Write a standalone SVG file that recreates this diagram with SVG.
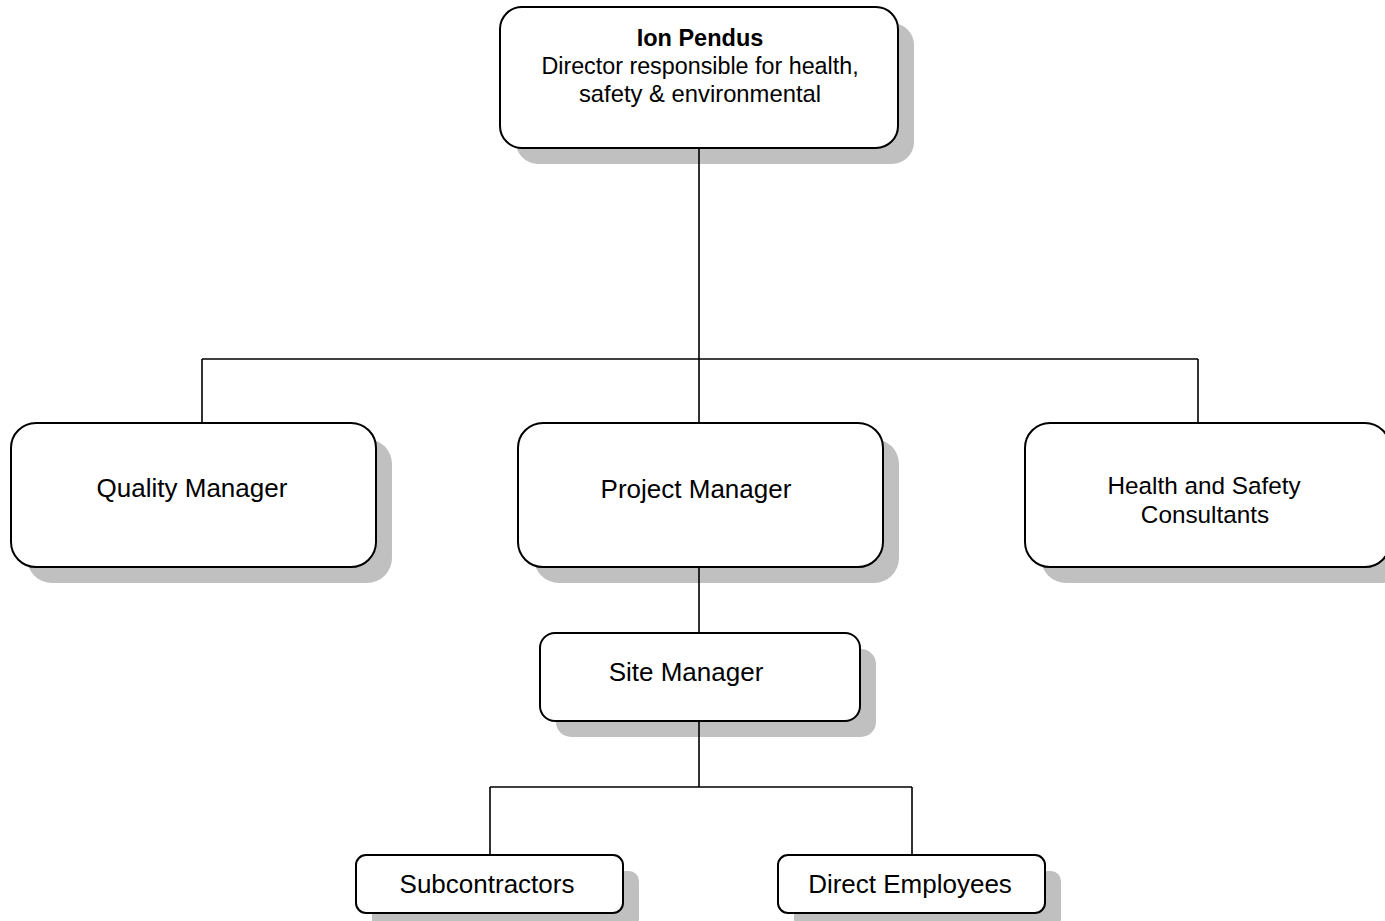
<svg xmlns="http://www.w3.org/2000/svg" width="1385" height="921" viewBox="0 0 1385 921">
<style>
.sh{fill:#c0c0c0;stroke:none}
.bx{fill:#ffffff;stroke:#000000;stroke-width:2}
.t{font-family:"Liberation Sans",Arial,sans-serif;fill:#000000;text-anchor:middle}
.ln{stroke:#000000;stroke-width:1.6;fill:none}
</style>
<rect width="1385" height="921" fill="#ffffff"/>
<g id="director">
<rect class="sh" x="516" y="23" width="398" height="141" rx="22"/>
<rect class="bx" x="500" y="7" width="398" height="141" rx="22"/>
<text class="t" x="700" y="46" font-size="23.5" font-weight="bold">Ion Pendus</text>
<text class="t" x="700" y="74" font-size="23.3">Director responsible for health,</text>
<text class="t" x="700" y="102" font-size="23.8">safety &amp; environmental</text>
</g>
<g id="quality">
<rect class="sh" x="27" y="439" width="365" height="144" rx="25"/>
<rect class="bx" x="11" y="423" width="365" height="144" rx="25"/>
<text class="t" x="192" y="497" font-size="26">Quality Manager</text>
</g>
<g id="project">
<rect class="sh" x="534" y="439" width="365" height="144" rx="25"/>
<rect class="bx" x="518" y="423" width="365" height="144" rx="25"/>
<text class="t" x="696" y="498" font-size="26">Project Manager</text>
</g>
<g id="hs">
<rect class="sh" x="1041" y="439" width="365" height="144" rx="25"/>
<rect class="bx" x="1025" y="423" width="365" height="144" rx="25"/>
<text class="t" x="1204" y="494" font-size="24.3">Health and Safety</text>
<text class="t" x="1205" y="523" font-size="24.3">Consultants</text>
</g>
<g id="site">
<rect class="sh" x="556" y="649" width="320" height="88" rx="15"/>
<rect class="bx" x="540" y="633" width="320" height="88" rx="15"/>
<text class="t" x="686" y="681" font-size="26">Site Manager</text>
</g>
<g id="sub">
<rect class="sh" x="372" y="871" width="267" height="58" rx="10"/>
<rect class="bx" x="356" y="855" width="267" height="58" rx="10"/>
<text class="t" x="487" y="893" font-size="26">Subcontractors</text>
</g>
<g id="direct">
<rect class="sh" x="794" y="871" width="267" height="58" rx="10"/>
<rect class="bx" x="778" y="855" width="267" height="58" rx="10"/>
<text class="t" x="910" y="893" font-size="26">Direct Employees</text>
</g>
<g id="connectors">
<path class="ln" d="M699 149V422M202 359H1198M202 359V422M1198 359V422M699 568V632M699 722V787M490 787H912M490 787V854M912 787V854"/>
</g>
</svg>
